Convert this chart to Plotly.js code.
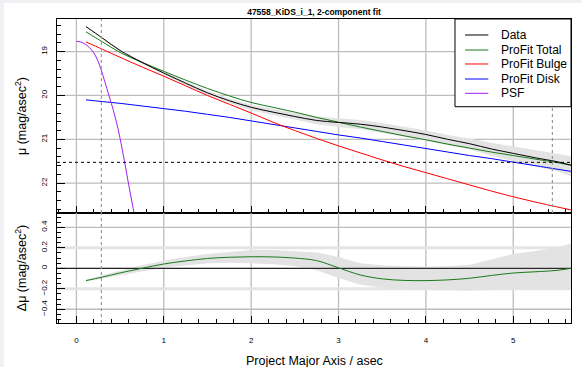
<!DOCTYPE html>
<html><head><meta charset="utf-8">
<script src="https://cdn.plot.ly/plotly-3.0.1.min.js"></script>
<style>
html,body{margin:0;padding:0;background:#f0f0f5;width:582px;height:367px;overflow:hidden}
#chart{position:absolute;left:4px;top:3px;width:578px;height:364px;background:#fff}
</style></head><body><div id="chart"></div>
<script>
// ---- data ----
const radius = [0.11, 0.3, 0.5, 0.75, 1.0, 1.25, 1.5, 1.75, 2.0, 2.25, 2.5, 2.75, 3.0, 3.25, 3.5, 3.75, 4.0, 4.25, 4.5, 4.75, 5.0, 5.25, 5.5, 5.66];
const muData = [18.43, 18.695, 18.975, 19.245, 19.49, 19.72, 19.94, 20.12, 20.27, 20.38, 20.48, 20.57, 20.615, 20.655, 20.72, 20.80, 20.89, 21.00, 21.10, 21.22, 21.32, 21.42, 21.51, 21.59];
const muDataBright = [18.42, 18.68, 18.955, 19.215, 19.45, 19.68, 19.89, 20.07, 20.21, 20.31, 20.40, 20.48, 20.515, 20.56, 20.63, 20.71, 20.80, 20.90, 20.98, 21.08, 21.16, 21.24, 21.32, 21.38];
const muDataFaint = [18.44, 18.71, 18.995, 19.275, 19.52, 19.76, 19.985, 20.17, 20.34, 20.45, 20.55, 20.655, 20.72, 20.77, 20.855, 20.94, 21.03, 21.13, 21.23, 21.375, 21.505, 21.62, 21.73, 21.84];
const muTotal = [18.55, 18.78, 19.02, 19.245, 19.45, 19.65, 19.84, 20.01, 20.16, 20.27, 20.38, 20.50, 20.61, 20.72, 20.82, 20.92, 21.01, 21.11, 21.20, 21.29, 21.37, 21.45, 21.53, 21.59];
const muBulge = [18.78, 18.95, 19.13, 19.35, 19.56, 19.78, 20.00, 20.20, 20.40, 20.61, 20.80, 20.98, 21.15, 21.31, 21.47, 21.62, 21.76, 21.90, 22.04, 22.18, 22.31, 22.43, 22.54, 22.61];
const muDisk = [20.10, 20.14, 20.18, 20.24, 20.30, 20.36, 20.43, 20.50, 20.58, 20.66, 20.74, 20.82, 20.90, 20.97, 21.05, 21.13, 21.21, 21.29, 21.37, 21.44, 21.52, 21.60, 21.68, 21.73];
const resid = [-0.12, -0.085, -0.045, 0.0, 0.042, 0.072, 0.096, 0.108, 0.113, 0.111, 0.10, 0.075, 0.005, -0.065, -0.103, -0.118, -0.12, -0.113, -0.097, -0.07, -0.046, -0.034, -0.02, 0.0];
const residHi = [-0.11, -0.07, -0.025, 0.03, 0.075, 0.11, 0.14, 0.16, 0.18, 0.18, 0.17, 0.155, 0.11, 0.05, 0.03, 0.02, 0.016, 0.02, 0.035, 0.085, 0.14, 0.17, 0.20, 0.245];
const residLo = [-0.13, -0.10, -0.065, -0.03, 0.005, 0.03, 0.05, 0.055, 0.05, 0.04, 0.02, -0.02, -0.095, -0.16, -0.19, -0.205, -0.21, -0.215, -0.22, -0.21, -0.21, -0.21, -0.21, -0.21];
const psfRadius = [0, 0.05, 0.1, 0.15, 0.2, 0.25, 0.3, 0.35, 0.4, 0.45, 0.5, 0.55, 0.6, 0.65, 0.7];
const muPSF = [18.77, 18.78, 18.83, 18.91, 19.03, 19.23, 19.52, 19.85, 20.18, 20.54, 20.98, 21.5, 22.05, 22.58, 23.1];
const innerLimit = 0.286;
const outerLimit = 5.448;
const skyLimitMu = 21.525;
const residRefLevels = [-0.2, 0.2];
const legendLabels = ['Data', 'ProFit Total', 'ProFit Bulge', 'ProFit Disk', 'PSF'];
const legendColors = ['#000000', '#1a7a1a', '#ff0000', '#0000ff', '#a020f0'];
const xTicks = [0, 1, 2, 3, 4, 5];
const muTicks = [19, 20, 21, 22];
const residTicks = [-0.4, -0.2, 0, 0.2, 0.4];
const residTickText = ['\u22120.4', '\u22120.2', '0', '0.2', '0.4'];

// ---- ranges ----
const xRange = [-0.222, 5.661];
const muRange = [22.68, 18.257];
const residRange = [-0.534, 0.54];

const FONT = 'Liberation Sans, Arial, Helvetica, sans-serif';
const GRID = '#bdbdbd';

// helper: set of segments joined by nulls, drawn as one line trace
function segs(list, xa, ya, color, width, dash) {
  const x = [], y = [];
  list.forEach(s => { x.push(s[0], s[1], null); y.push(s[2], s[3], null); });
  return {x, y, type: 'scatter', mode: 'lines', line: {color, width, dash: dash || 'solid'}, xaxis: xa, yaxis: ya, hoverinfo: 'skip', connectgaps: false};
}
const gridTop = segs(
  xTicks.map(v => [v, v, muRange[0], muRange[1]]).concat(muTicks.map(v => [xRange[0], xRange[1], v, v])),
  'x', 'y', GRID, 1.3);
const gridBot = segs(
  xTicks.map(v => [v, v, residRange[0], residRange[1]]).concat(residTicks.map(v => [xRange[0], xRange[1], v, v])),
  'x2', 'y2', GRID, 1.3);
const refBot = segs(residRefLevels.map(v => [xRange[0], xRange[1], v, v]), 'x2', 'y2', '#e4e4e4', 3);

// ---- traces ----
const band = (x, lo, hi) => ({x: x.concat(x.slice().reverse()), y: lo.concat(hi.slice().reverse())});
const topBand = band(radius, muDataBright, muDataFaint);
const botBand = band(radius, residLo, residHi);
const traces = [
  gridTop, gridBot, refBot,
  {x: topBand.x, y: topBand.y, type: 'scatter', mode: 'lines', fill: 'toself', fillcolor: '#e3e3e3', line: {width: 0}, xaxis: 'x', yaxis: 'y', hoverinfo: 'skip'},
  {x: radius, y: muDisk, type: 'scatter', mode: 'lines', line: {color: legendColors[3], width: 1, shape: 'spline'}, xaxis: 'x', yaxis: 'y'},
  {x: radius, y: muBulge, type: 'scatter', mode: 'lines', line: {color: legendColors[2], width: 1, shape: 'spline'}, xaxis: 'x', yaxis: 'y'},
  {x: psfRadius, y: muPSF, type: 'scatter', mode: 'lines', line: {color: legendColors[4], width: 1, shape: 'spline'}, xaxis: 'x', yaxis: 'y'},
  {x: radius, y: muTotal, type: 'scatter', mode: 'lines', line: {color: legendColors[1], width: 1, shape: 'spline'}, xaxis: 'x', yaxis: 'y'},
  {x: radius, y: muData, type: 'scatter', mode: 'lines', line: {color: legendColors[0], width: 1, shape: 'spline'}, xaxis: 'x', yaxis: 'y'},
  {x: botBand.x, y: botBand.y, type: 'scatter', mode: 'lines', fill: 'toself', fillcolor: '#e3e3e3', line: {width: 0}, xaxis: 'x2', yaxis: 'y2', hoverinfo: 'skip'},
  segs([[xRange[0], xRange[1], 0, 0]], 'x2', 'y2', '#000', 1),
  {x: radius, y: resid, type: 'scatter', mode: 'lines', line: {color: legendColors[1], width: 1, shape: 'spline'}, xaxis: 'x2', yaxis: 'y2'}
];

// ---- layout ----
const split = 0.3618;
const axisCommonX = {
  range: xRange, tickvals: xTicks, ticks: 'inside', ticklen: 7, tickcolor: '#000', tickwidth: 1,
  minor: {dtick: 0.2, tick0: 0, ticks: 'inside', ticklen: 4, tickcolor: '#000'},
  showgrid: false, zeroline: false,
  showline: true, linecolor: '#000', linewidth: 1, mirror: true, fixedrange: true
};
const shapes = [];
// reference lines
shapes.push({type: 'line', xref: 'x', yref: 'y', x0: innerLimit, x1: innerLimit, y0: muRange[0], y1: muRange[1], line: {color: '#999999', width: 1.2, dash: 'dot'}, layer: 'above'});
shapes.push({type: 'line', xref: 'x', yref: 'y', x0: outerLimit, x1: outerLimit, y0: muRange[0], y1: muRange[1], line: {color: '#999999', width: 1.2, dash: 'dot'}, layer: 'above'});
shapes.push({type: 'line', xref: 'x2', yref: 'y2', x0: innerLimit, x1: innerLimit, y0: residRange[0], y1: residRange[1], line: {color: '#999999', width: 1.2, dash: 'dot'}, layer: 'above'});
shapes.push({type: 'line', xref: 'x', yref: 'y', x0: xRange[0], x1: xRange[1], y0: skyLimitMu, y1: skyLimitMu, line: {color: '#000', width: 1, dash: 'dot'}, layer: 'above'});

// legend drawn manually (box, samples, labels)
const legX0 = 0.7743, legY0 = 0.7115;
const legRows = [0.9474, 0.8980, 0.8520, 0.8026, 0.7556];
shapes.push({type: 'rect', xref: 'paper', yref: 'paper', x0: legX0, x1: 1, y0: legY0, y1: 1, fillcolor: '#fff', line: {color: '#000', width: 1}, layer: 'above'});
const annotations = [];
legendLabels.forEach((lab, i) => {
  shapes.push({type: 'line', xref: 'paper', yref: 'paper', x0: 0.7938, x1: 0.8391, y0: legRows[i], y1: legRows[i], line: {color: legendColors[i], width: 1}, layer: 'above'});
  annotations.push({xref: 'paper', yref: 'paper', x: 0.8605, y: legRows[i], text: lab, showarrow: false, xanchor: 'left', yanchor: 'middle', font: {family: FONT, size: 12, color: '#000'}});
});
// x-axis title placed precisely
annotations.push({xref: 'paper', yref: 'paper', x: 0.5, y: -0.124, text: 'Project Major Axis / asec', showarrow: false, xanchor: 'center', yanchor: 'middle', font: {family: FONT, size: 12.5, color: '#000'}});

const layout = {
  width: 578, height: 364,
  margin: {l: 53, r: 11, t: 16, b: 44, pad: 0},
  paper_bgcolor: '#fff', plot_bgcolor: '#fff',
  showlegend: false,
  font: {family: FONT, color: '#000'},
  title: {text: '<b>47558_KiDS_i_1, 2-component fit</b>', font: {family: FONT, size: 8.5, color: '#000'}, x: 0.5, xref: 'paper', xanchor: 'center', y: 1 - 9.5 / 364, yref: 'container', yanchor: 'middle'},
  xaxis: Object.assign({}, axisCommonX, {anchor: 'y', showticklabels: false, domain: [0, 1]}),
  xaxis2: Object.assign({}, axisCommonX, {anchor: 'y2', domain: [0, 1], showticklabels: true, tickfont: {size: 8, family: FONT}, ticklabelstandoff: 9}),
  yaxis: {
    domain: [split, 1], anchor: 'x', range: muRange, tickvals: muTicks, ticks: 'inside', ticklen: 7.5, tickcolor: '#000',
    minor: {dtick: 0.2, tick0: 0, ticks: 'inside', ticklen: 4, tickcolor: '#000'},
    tickangle: -90, tickfont: {size: 8, family: FONT}, ticklabelstandoff: 6,
    showgrid: false, zeroline: false, showline: true, linecolor: '#000', mirror: true, fixedrange: true,
    title: {text: '\u03bc (mag/asec<sup>2</sup>)', font: {size: 12.5, family: FONT}, standoff: 10}
  },
  yaxis2: {
    domain: [0, split], anchor: 'x2', range: residRange, tickvals: residTicks, ticktext: residTickText, ticks: 'inside', ticklen: 7.5, tickcolor: '#000',
    minor: {dtick: 0.05, tick0: 0, ticks: 'inside', ticklen: 4, tickcolor: '#000'},
    tickangle: -90, tickfont: {size: 8, family: FONT}, ticklabelstandoff: 6,
    showgrid: false, zeroline: false, showline: true, linecolor: '#000', mirror: true, fixedrange: true,
    title: {text: '\u0394\u03bc (mag/asec<sup>2</sup>)', font: {size: 12.5, family: FONT}, standoff: 10}
  },
  shapes: shapes,
  annotations: annotations
};

Plotly.newPlot('chart', traces, layout, {staticPlot: true, displayModeBar: false});
</script></body></html>
